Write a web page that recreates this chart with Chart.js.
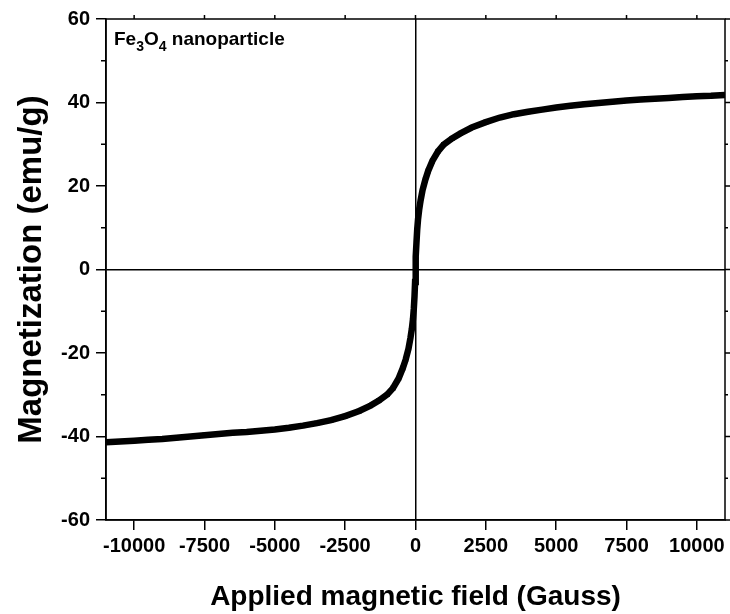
<!DOCTYPE html>
<html>
<head>
<meta charset="utf-8">
<script src="https://cdn.jsdelivr.net/npm/chart.js@4.4.1/dist/chart.umd.min.js"></script>
<style>
  body { margin: 0; background: #fff; }
  #wrap { width: 730px; height: 614px; }
</style>
</head>
<body>
<div id="wrap"><canvas id="myChart" width="730" height="614"></canvas></div>
<script>
// applied field (Gauss) and magnetization (emu/g)
const field = [
  -11000, -10500, -10000, -9500, -9000, -8500, -8000, -7500, -7000, -6500,
  -6000, -5500, -5000, -4500, -4000, -3500, -3000, -2500, -2000, -1600,
  -1300, -1000, -800, -600, -450, -350, -250, -180, -130, -90, -60, -35, -15,
  0,
  15, 35, 60, 90, 130, 180, 250, 350, 450, 600, 800, 1000, 1300, 1600,
  2000, 2500, 3000, 3500, 4000, 4500, 5000, 5500, 6000, 6500, 7000,
  7500, 8000, 8500, 9000, 9500, 10000, 10500, 11000
];
const magnetization = [
  -41.4, -41.2, -41.0, -40.8, -40.6, -40.3, -40.0, -39.7, -39.4, -39.1,
  -38.9, -38.6, -38.3, -37.9, -37.4, -36.8, -36.1, -35.1, -33.9, -32.6,
  -31.4, -29.9, -28.4, -26.1, -23.6, -21.6, -19.0, -16.4, -14.2, -11.9, -9.4, -6.4, -3.0,
  0,
  3.1, 6.5, 9.5, 12.0, 14.3, 16.5, 19.0, 21.5, 23.6, 26.0, 28.3, 29.9, 31.4, 32.6,
  34.0, 35.3, 36.4, 37.2, 37.8, 38.3, 38.8, 39.2, 39.6, 39.9, 40.2,
  40.5, 40.7, 40.9, 41.1, 41.3, 41.5, 41.6, 41.8
];
const xTicks = [-10000, -7500, -5000, -2500, 0, 2500, 5000, 7500, 10000];
const yTicks = [-60, -40, -20, 0, 20, 40, 60];
const yMinor = [-50, -30, -10, 10, 30, 50];

const FONT = "'Liberation Sans', Arial, sans-serif";

// frame, mirror ticks, minor ticks and the sample label
const framePlugin = {
  id: 'frame',
  afterDraw(chart) {
    const c = chart.ctx, a = chart.chartArea;
    const xs = chart.scales.x, ys = chart.scales.y;
    c.save();
    c.strokeStyle = '#000';
    c.lineWidth = 1.5;
    c.strokeRect(a.left, a.top, a.right - a.left, a.bottom - a.top);
    c.beginPath();
    yMinor.forEach(v => {
      const y = ys.getPixelForValue(v);
      c.moveTo(a.left - 5, y); c.lineTo(a.left, y);
      c.moveTo(a.right, y); c.lineTo(a.right + 3, y);
    });
    yTicks.forEach(v => {
      const y = ys.getPixelForValue(v);
      c.moveTo(a.right, y); c.lineTo(a.right + 5, y);
    });
    xTicks.forEach(v => {
      const x = xs.getPixelForValue(v);
      c.moveTo(x, a.top); c.lineTo(x, a.top - 4);
    });
    c.stroke();

    c.fillStyle = '#000';
    c.textBaseline = 'alphabetic';
    let x = a.left + 8;
    const base = a.top + 26;
    const parts = [['Fe', 0], ['3', 1], ['O', 0], ['4', 1], [' nanoparticle', 0]];
    parts.forEach(p => {
      c.font = p[1] ? 'bold 14px ' + FONT : 'bold 19px ' + FONT;
      c.fillText(p[0], x, p[1] ? base + 6 : base);
      x += c.measureText(p[0]).width;
    });
    c.restore();
  }
};

const ctx = document.getElementById('myChart');

var chart = new Chart(ctx, {
  type: 'scatter',
  data: {
    datasets: [{
      label: 'M-H',
      data: field.map((h, i) => ({ x: h, y: magnetization[i] })),
      showLine: true,
      borderColor: '#000',
      borderWidth: 6.5,
      backgroundColor: '#000',
      pointStyle: 'rect',
      pointRadius: 3.5,
      pointBorderWidth: 0,
      tension: 0
    }]
  },
  options: {
    responsive: false,
    animation: false,
    layout: { padding: { top: 19, right: 5, left: 0, bottom: 0 } },
    plugins: {
      legend: { display: false },
      tooltip: { enabled: false }
    },
    scales: {
      x: {
        type: 'linear',
        min: -11000,
        max: 11000,
        afterBuildTicks: s => { s.ticks = xTicks.map(v => ({ value: v })); },
        afterFit: s => { s.height = 94; },
        grid: {
          drawOnChartArea: true,
          color: c => (c.tick && c.tick.value === 0) ? '#000' : 'rgba(0,0,0,0)',
          tickColor: '#000',
          lineWidth: 1.5,
          tickLength: 10
        },
        border: { display: true, color: '#000', width: 1.5 },
        ticks: {
          color: '#000',
          padding: 4,
          maxRotation: 0,
          autoSkip: false,
          font: { family: FONT, size: 20, weight: 'bold' },
          callback: v => String(v)
        },
        title: {
          display: true,
          text: 'Applied magnetic field (Gauss)',
          color: '#000',
          padding: { top: 0, bottom: 0 },
          font: { family: FONT, size: 28, weight: 'bold' }
        }
      },
      y: {
        type: 'linear',
        min: -60,
        max: 60,
        afterBuildTicks: s => { s.ticks = yTicks.map(v => ({ value: v })); },
        afterFit: s => { s.width = 106; },
        grid: {
          drawOnChartArea: true,
          color: c => (c.tick && c.tick.value === 0) ? '#000' : 'rgba(0,0,0,0)',
          tickColor: '#000',
          lineWidth: 1.5,
          tickLength: 10
        },
        border: { display: true, color: '#000', width: 1.5 },
        ticks: {
          color: '#000',
          padding: 6,
          font: { family: FONT, size: 20, weight: 'bold' },
          callback: v => String(v)
        },
        title: {
          display: true,
          text: 'Magnetization (emu/g)',
          color: '#000',
          padding: { top: 12, bottom: 0 },
          font: { family: FONT, size: 33, weight: 'bold' }
        }
      }
    }
  },
  plugins: [framePlugin]
});
</script>
</body>
</html>
